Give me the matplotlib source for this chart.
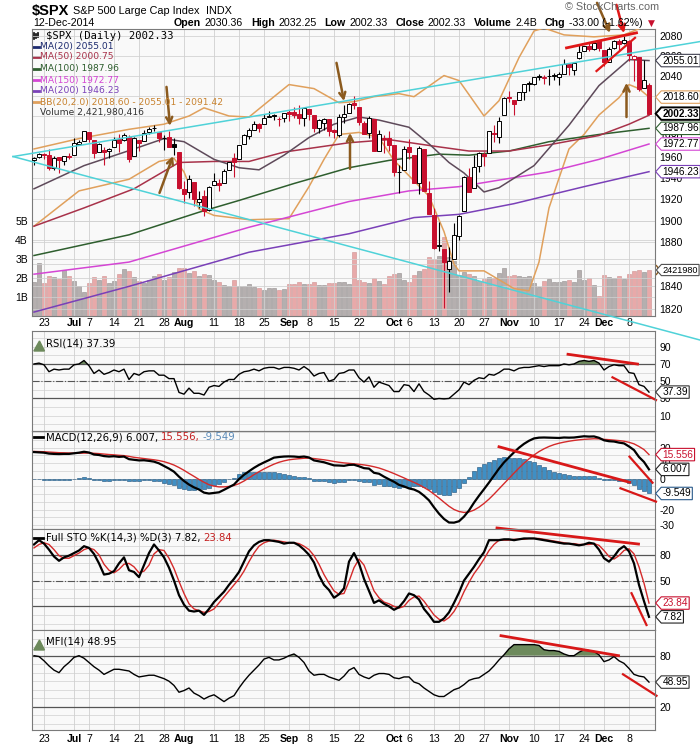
import numpy as np
import pandas as pd
import matplotlib
matplotlib.use("Agg")
import matplotlib.pyplot as plt
from matplotlib.lines import Line2D
from matplotlib.patches import Ellipse, Polygon, Rectangle
from matplotlib.path import Path
from matplotlib.transforms import blended_transform_factory
from matplotlib.ticker import NullLocator

# ---------------- data ----------------
holidays = ["2014-07-04", "2014-09-01", "2014-11-27"]
dates = pd.bdate_range("2014-06-19", "2014-12-12")
dates = dates[~dates.isin(pd.to_datetime(holidays))]
days = np.arange(len(dates))
prev_close = 1956.98  # close of 18-Jun

opens = [1957.5, 1960.5, 1962.9, 1961.9, 1949.3, 1959.9, 1956.6, 1960.8, 1962.3, 1973.1, 1975.9,
         1984.2, 1976.4, 1965.1, 1966.7, 1965.8,
         1969.9, 1977.4, 1976.4, 1979.8, 1961.5,
         1976.9, 1975.7, 1984.6, 1988.1, 1984.6,
         1978.3, 1980.0, 1973.2, 1965.1, 1929.8,
         1926.6, 1936.3, 1917.3, 1923.0, 1910.4,
         1933.4, 1935.7, 1935.6, 1947.4, 1958.9,
         1958.4, 1972.7, 1980.5, 1986.8, 1992.6,
         1991.7, 1998.6, 2000.5, 1997.4, 1998.5,
         2004.1, 2003.6, 2001.7, 1998.0,
         2007.2, 2000.7, 1988.4, 1992.9, 1996.7,
         1986.0, 1981.9, 1999.3, 2003.1, 2012.7,
         2009.1, 1992.8, 1983.3, 1997.3, 1966.2,
         1978.96, 1978.2, 1971.4, 1945.8, 1948.1,
         1970.0, 1962.4, 1935.6, 1967.7, 1925.6,
         1905.7, 1877.1, 1874.2, 1855.9, 1864.9,
         1885.6, 1909.4, 1941.3, 1931.0, 1951.6,
         1962.97, 1964.1, 1983.3, 1979.5, 2001.2,
         2018.2, 2015.8, 2015.3, 2023.3, 2032.4,
         2032.0, 2038.2, 2037.8, 2039.2, 2039.7,
         2038.3, 2041.5, 2051.2, 2045.9, 2057.5,
         2065.1, 2070.2, 2067.0, 2074.8,
         2065.8, 2053.8, 2067.5, 2074.8, 2072.8,
         2074.8, 2056.6, 2058.9, 2027.9, 2030.36]
highs = [1960.0, 1963.9, 1963.7, 1968.2, 1960.8, 1959.9, 1961.5, 1964.2, 1978.6, 1976.7, 1985.6,
         1984.2, 1976.4, 1974.2, 1969.8, 1968.7,
         1979.8, 1982.5, 1983.9, 1981.8, 1979.9,
         1976.9, 1986.2, 1989.2, 1991.4, 1984.6,
         1981.5, 1984.9, 1978.9, 1965.1, 1937.4,
         1942.9, 1936.3, 1927.9, 1928.9, 1932.4,
         1944.9, 1939.7, 1948.4, 1955.2, 1964.0,
         1972.0, 1982.6, 1988.6, 1994.8, 1993.5,
         2002.0, 2005.0, 2002.1, 1998.6, 2003.4,
         2006.1, 2009.3, 2011.2, 2007.8,
         2007.2, 2001.0, 1996.7, 1997.7, 1996.7,
         1987.2, 2002.3, 2010.7, 2012.3, 2019.3,
         2009.1, 1995.4, 1999.8, 1997.3, 1986.4,
         1981.3, 1985.2, 1971.4, 1952.3, 1971.2,
         1977.8, 1962.4, 1970.4, 1967.7, 1937.0,
         1912.1, 1898.7, 1874.2, 1876.0, 1898.2,
         1905.0, 1942.5, 1949.3, 1962.0, 1965.3,
         1964.6, 1985.1, 1991.4, 1999.4, 2018.2,
         2024.5, 2016.0, 2023.8, 2031.6, 2034.3,
         2038.7, 2041.3, 2040.3, 2046.2, 2042.2,
         2043.1, 2056.1, 2052.1, 2053.8, 2071.5,
         2070.2, 2074.2, 2073.4, 2075.8,
         2065.8, 2068.8, 2076.3, 2077.3, 2079.5,
         2075.8, 2060.6, 2058.9, 2055.5, 2032.25]
lows = [1952.3, 1959.2, 1958.2, 1948.3, 1947.5, 1944.7, 1953.0, 1958.2, 1962.3, 1972.6, 1975.9,
        1974.9, 1959.5, 1965.1, 1952.9, 1959.6,
        1969.9, 1965.3, 1975.7, 1955.6, 1960.8,
        1965.8, 1975.7, 1982.4, 1985.8, 1974.4,
        1967.3, 1969.9, 1962.4, 1930.0, 1916.4,
        1921.2, 1913.8, 1911.5, 1904.8, 1909.0,
        1933.4, 1928.3, 1935.6, 1947.4, 1941.5,
        1958.4, 1972.7, 1977.7, 1986.8, 1984.8,
        1991.7, 1998.6, 1996.2, 1990.5, 1994.6,
        1994.9, 1998.2, 1992.5, 1990.1,
        1995.6, 1984.6, 1983.0, 1985.9, 1980.3,
        1978.5, 1979.1, 1993.3, 2003.1, 2006.6,
        1991.0, 1982.3, 1978.6, 1965.9, 1966.2,
        1964.0, 1966.0, 1941.7, 1926.0, 1948.1,
        1958.4, 1935.1, 1925.3, 1927.6, 1906.1,
        1874.1, 1871.8, 1820.66, 1835.0, 1864.9,
        1882.3, 1909.4, 1926.8, 1931.0, 1946.3,
        1951.4, 1964.1, 1974.8, 1974.2, 2001.2,
        2013.7, 2001.0, 2015.3, 2015.9, 2025.1,
        2030.2, 2035.3, 2031.3, 2030.4, 2035.2,
        2030.2, 2041.5, 2040.4, 2040.5, 2056.8,
        2065.1, 2064.8, 2066.0, 2065.1,
        2049.6, 2053.8, 2066.7, 2064.5, 2071.5,
        2054.3, 2034.2, 2024.3, 2027.9, 2002.33]
closes = [1959.48, 1962.87, 1962.61, 1949.98, 1959.53, 1957.22, 1960.96, 1960.23, 1973.32, 1974.62, 1985.44,
          1977.65, 1963.71, 1972.83, 1964.68, 1967.57,
          1977.10, 1973.28, 1981.57, 1958.12, 1978.22,
          1973.63, 1983.53, 1987.01, 1987.98, 1978.34,
          1978.91, 1969.95, 1970.07, 1930.67, 1925.15,
          1938.99, 1920.21, 1920.24, 1909.57, 1931.59,
          1936.92, 1933.75, 1946.72, 1955.18, 1955.06,
          1971.74, 1981.60, 1986.51, 1992.37, 1988.40,
          1997.92, 2000.02, 2000.12, 1996.74, 2003.37,
          2002.28, 2000.72, 1997.65, 2007.71,
          2001.54, 1988.44, 1995.69, 1997.45, 1985.54,
          1984.13, 1998.98, 2001.57, 2011.36, 2010.40,
          1994.29, 1982.77, 1998.30, 1965.99, 1982.85,
          1977.80, 1972.29, 1946.16, 1946.17, 1967.90,
          1964.82, 1935.10, 1968.89, 1928.21, 1906.13,
          1874.74, 1877.70, 1862.49, 1862.76, 1886.76,
          1904.01, 1941.28, 1927.11, 1950.82, 1964.58,
          1961.63, 1985.05, 1982.30, 1994.65, 2018.05,
          2017.81, 2012.10, 2023.57, 2031.21, 2031.92,
          2038.26, 2039.68, 2038.25, 2039.33, 2039.82,
          2041.32, 2051.80, 2048.72, 2052.75, 2063.50,
          2069.41, 2067.03, 2072.83, 2067.56,
          2053.44, 2066.55, 2074.33, 2071.92, 2075.37,
          2060.31, 2059.82, 2026.14, 2035.33, 2002.33]
volume_b = [1.8, 2.8, 1.75, 2.1, 2.05, 1.95, 2.4, 2.1, 1.85, 1.6, 1.25,
            1.75, 2.05, 1.9, 2.1, 1.75,
            1.85, 2.2, 2.45, 2.35, 2.05,
            1.85, 1.75, 1.9, 2.1, 2.2,
            1.9, 2.05, 2.3, 2.55, 2.55,
            2.25, 2.35, 2.1, 2.2, 2.15,
            1.9, 1.8, 1.65, 1.6, 1.9,
            1.6, 1.6, 1.7, 1.55, 1.5,
            1.35, 1.5, 1.5, 1.35, 1.4,
            1.7, 1.7, 1.8, 1.7,
            1.7, 1.8, 1.65, 1.65, 1.75,
            1.75, 1.8, 1.8, 1.7, 3.35,
            1.9, 1.8, 1.75, 2.0, 1.85,
            1.7, 2.1, 2.2, 2.25, 1.9,
            1.8, 2.15, 2.35, 2.45, 3.1,
            3.0, 3.15, 4.15, 3.1, 2.9,
            2.15, 2.3, 2.2, 2.1, 1.85,
            1.95, 2.05, 2.0, 2.25, 2.55,
            2.1, 2.15, 2.1, 2.05, 2.1,
            1.75, 1.55, 1.85, 1.95, 1.8,
            1.8, 1.85, 1.9, 1.8, 2.4,
            1.9, 2.0, 1.65, 1.05,
            2.15, 2.05, 2.0, 2.1, 1.95,
            2.2, 2.35, 2.4, 2.3, 2.42]

# overlays read at sample days (day index, value)
ma20_day = [0, 10, 20, 26, 30, 36, 41, 45, 50, 55, 60, 65, 69, 75, 79, 83, 86, 90, 93, 100, 107, 113, 119, 123]
ma20_val = [1930, 1952, 1968, 1978, 1975, 1958, 1950, 1948, 1962, 1979, 1992, 1999, 1996, 1989, 1973, 1955,
            1945, 1927, 1931, 1952, 1991, 2030, 2056, 2055.01]
ma50_day = [0, 10, 20, 29, 36, 43, 50, 63, 71, 81, 87, 95, 103, 113, 119, 123]
ma50_val = [1895, 1912, 1930, 1955, 1956, 1956, 1965, 1974, 1977, 1970, 1966, 1966, 1972, 1981, 1992, 2000.75]
ma100_day = [0, 19, 33, 41, 52, 63, 71, 81, 87, 95, 103, 113, 123]
ma100_val = [1868, 1887, 1908, 1919, 1935, 1950, 1957, 1963, 1962, 1966, 1975, 1982, 1987.96]
ma150_day = [0, 19, 43, 63, 75, 85, 103, 113, 123]
ma150_val = [1851, 1862, 1894, 1918, 1928, 1932, 1946, 1958, 1972.77]
ma200_day = [0, 19, 43, 63, 76, 85, 96, 110, 123]
ma200_val = [1817, 1840, 1871, 1888, 1903, 1906, 1916, 1932, 1946.23]
bbup_day = [0, 9, 19, 26, 31, 34, 39, 43, 47, 51, 56, 61, 64, 68, 73, 76, 80, 82, 85, 87, 90, 93, 97,
            100, 102, 106, 112, 118, 123]
bbup_val = [1968, 1978, 1987, 1992, 2000, 2008, 2000, 1999, 2015, 2031, 2027, 2013, 2014, 2019, 2022, 2019,
            2033, 2040, 2035, 2021, 2000, 2015, 2058, 2085, 2088, 2081, 2079, 2081, 2091.42]
bblo_day = [0, 9, 19, 25, 28, 30, 33, 36, 43, 51, 55, 58, 61, 65, 69, 72, 79, 82, 84, 85, 90, 96, 99,
            101, 103, 105, 107, 110, 113, 117, 119, 121, 123]
bblo_val = [1895, 1928, 1939, 1956, 1959, 1946, 1911, 1905, 1901, 1902, 1932, 1958, 1982, 1984, 1979, 1957,
            1923, 1890, 1860, 1854, 1854, 1838, 1836, 1862, 1912, 1940, 1968, 1982, 2001, 2018, 2031, 2027,
            2018.60]

rsi = [70, 71, 69, 61, 64, 63, 64, 64, 69, 70, 74,
       68, 59, 63, 58, 60,
       63, 61, 64, 52, 59,
       57, 61, 62, 62, 57,
       57, 53, 53, 37, 35,
       42, 36, 36, 34, 43,
       45, 44, 49, 52, 52,
       58, 61, 62, 64, 62,
       65, 66, 66, 64, 66,
       66, 65, 63, 67,
       63, 56, 59, 60, 50,
       52, 59, 60, 63, 63,
       54, 49, 55, 43, 49,
       47, 45, 38, 38, 46,
       45, 38, 47, 38, 34,
       29, 30, 29.5, 30, 35,
       40, 49, 46, 51, 54,
       53, 58, 57, 60, 64,
       64, 62, 65, 66, 66,
       67, 68, 67, 68, 68,
       68, 70, 69, 70, 73,
       74, 73, 74, 71,
       63, 67, 69, 68, 68,
       60, 59, 46, 44, 37.39]
macd = [17.2, 17.0, 16.8, 16.2, 16.0, 15.9, 16.0, 16.0, 16.4, 16.8, 17.4,
        16.9, 15.6, 15.3, 14.6, 14.3, 14.5, 14.1, 14.3, 12.6, 12.2,
        11.8, 11.9, 11.5, 11.0, 9.9, 8.2, 6.5, 4.5, 1.3, -1.5,
        -3.8, -5.6, -7.0, -9.0, -9.6, -9.2, -8.8, -7.2, -5.5, -3.8,
        -0.3, 2.5, 4.8, 7.0, 8.9, 10.5, 12.0, 13.6, 14.0, 14.3,
        14.4, 14.3, 14.0, 14.3, 13.7, 11.8, 11.2, 10.6, 9.6, 8.6,
        8.5, 8.3, 8.9, 9.0, 8.0, 6.8, 6.5, 3.8, 3.2, 1.3,
        -0.4, -2.0, -4.0, -5.0, -6.3, -7.0, -8.5, -11.0, -14.0, -18.5,
        -22.6, -26.0, -28.3, -28.4, -27.5, -24.5, -20.5, -15.5, -11.0, -6.8,
        -2.5, 2.0, 6.5, 10.5, 13.8, 17.0, 20.0, 22.5, 24.5, 26.0,
        26.5, 26.6, 26.5, 26.4, 26.3, 26.6, 26.5, 26.6, 27.0, 27.4,
        27.2, 27.3, 26.4, 24.8, 24.2, 24.0, 23.3, 22.8, 20.8, 18.5,
        14.0, 10.8, 6.007]
signal = [17.6, 17.5, 17.4, 17.2, 17.0, 16.8, 16.7, 16.6, 16.5, 16.5, 16.5,
          16.6, 16.4, 16.2, 15.9, 15.6, 15.4, 15.1, 14.9, 14.4, 13.8,
          13.4, 13.0, 12.6, 12.2, 11.7, 11.0, 10.0, 8.8, 7.2, 5.4,
          3.4, 1.5, -0.5, -2.3, -3.9, -4.8, -5.3, -5.3, -5.0, -4.4,
          -3.2, -1.5, 0.5, 2.6, 4.5, 6.3, 7.9, 9.4, 10.6, 11.5,
          12.2, 12.6, 12.9, 13.2, 13.3, 13.0, 12.6, 12.2, 11.7, 11.1,
          10.6, 10.2, 9.9, 9.6, 9.3, 8.9, 8.4, 7.7, 6.9, 5.8,
          4.6, 3.3, 1.9, 0.5, -1.0, -2.4, -3.9, -5.7, -7.6, -10.0,
          -12.5, -15.2, -17.8, -19.9, -21.2, -21.8, -21.5, -20.3, -18.4, -16.0,
          -13.2, -10.0, -6.6, -3.2, 0.2, 3.6, 6.9, 10.0, 12.8, 15.3,
          17.5, 19.3, 20.8, 22.0, 22.9, 23.6, 24.2, 24.7, 25.1, 25.4,
          25.6, 25.8, 25.7, 25.4, 25.2, 24.9, 24.6, 24.2, 23.5, 22.5,
          20.8, 18.8, 15.556]
sto_k = [92, 97, 93, 86, 78, 73, 77, 79, 82, 85, 90,
         88, 81, 70, 57, 58, 61, 70, 77, 62, 60,
         54, 68, 82, 92, 85, 77, 65, 50, 33, 22,
         15, 14, 15, 10, 17, 25, 31, 37, 45, 52,
         60, 72, 84, 91, 95, 97, 97, 96, 95, 93,
         94, 94, 91, 86, 80, 71, 56, 45, 39, 30,
         34, 41, 72, 82, 70, 52, 38, 24, 27, 23,
         20, 16, 19, 26, 35, 33, 28, 17, 10, 2,
         2, 6, 13, 24, 36, 50, 58, 66, 75, 83,
         97, 97, 97, 98, 98, 97, 98, 99, 99, 99,
         98, 97, 96, 95, 94, 93, 93, 92, 91, 92,
         94, 93, 86, 76, 72, 78, 86, 90, 84, 70,
         45, 26, 7.82]
sto_d = [88, 92, 94, 92, 86, 79, 76, 76, 79, 82, 86,
         88, 86, 80, 69, 62, 59, 63, 69, 70, 66,
         59, 61, 68, 81, 86, 85, 76, 64, 49, 35,
         23, 17, 15, 13, 14, 17, 24, 31, 38, 45,
         52, 61, 72, 82, 90, 94, 96, 97, 96, 95,
         94, 94, 93, 90, 86, 79, 69, 57, 47, 38,
         34, 35, 49, 65, 75, 68, 53, 38, 30, 25,
         23, 20, 18, 20, 27, 31, 32, 26, 18, 10,
         5, 3, 7, 14, 24, 37, 48, 58, 66, 75,
         85, 92, 97, 97, 97, 98, 98, 98, 99, 99,
         99, 98, 97, 96, 95, 94, 93, 93, 92, 92,
         92, 93, 91, 85, 78, 75, 79, 85, 87, 81,
         66, 47, 23.84]
mfi = [80, 79, 74, 68, 63, 60, 67, 72, 78, 80, 77,
       72, 67, 63, 58, 61, 64, 64, 63, 62, 58,
       55, 56, 57, 57, 55, 53, 50, 45, 37, 39,
       42, 36, 33, 29, 32, 34, 30, 26, 30, 33,
       42, 50, 57, 63, 69, 76, 78, 75, 75, 77,
       80, 82, 78, 72, 62, 57, 58, 58, 55, 53,
       51, 56, 63, 66, 58, 55, 53, 57, 59, 59,
       58, 54, 53, 55, 55, 49, 47, 42, 38, 34,
       32, 32, 36, 40, 42, 46, 51, 53, 54, 58,
       62, 68, 75, 81, 88, 93, 93, 93, 93, 93,
       92, 87, 86, 86, 85, 82, 80, 80, 84, 87,
       86, 85, 81, 73, 75, 79, 74, 71, 65, 58,
       56, 55, 48.95]

tick_dates = ["2014-06-23", "2014-07-01", "2014-07-07", "2014-07-14", "2014-07-21", "2014-07-28",
              "2014-08-01", "2014-08-11", "2014-08-18", "2014-08-25", "2014-09-02", "2014-09-08",
              "2014-09-15", "2014-09-22", "2014-10-01", "2014-10-06", "2014-10-13", "2014-10-20",
              "2014-10-27", "2014-11-03", "2014-11-10", "2014-11-17", "2014-11-24", "2014-12-01",
              "2014-12-08"]
tick_labels = ["23", "Jul", "7", "14", "21", "28", "Aug", "11", "18", "25", "Sep", "8", "15", "22",
               "Oct", "6", "13", "20", "27", "Nov", "10", "17", "24", "Dec", "8"]
months = {"Jul", "Aug", "Sep", "Oct", "Nov", "Dec"}

# ---------------- styling ----------------
W, H = 700, 748
RED = "#c8102e"
BROWN = "#8b5a1e"
CYAN = "#4fd2d8"
GRIDC = "#d0d0d0"
BG = "#f9f9f9"
LBL = "Liberation Sans"
c_ma20, c_ma50, c_ma100 = "#5e4a5a", "#a8324a", "#2e5e2e"
c_ma150, c_ma200, c_bb = "#d446d4", "#7a40b8", "#e0a05c"

tick_pos = dates.get_indexer(pd.to_datetime(tick_dates))
xlo, xhi = -0.4, 124.2

fig = plt.figure(figsize=(W / 100, H / 100), dpi=100)
fig.patch.set_facecolor("white")
renderer = fig.canvas.get_renderer()


def panel(top, bottom):
    return fig.add_axes([32 / W, 1 - bottom / H, 623 / W, (bottom - top) / H])


def fx(x):
    return x / W


def fy(y):
    return 1 - y / H


def rainbow(x, y, parts, **kw):
    for s, extra, gap in parts:
        props = dict(kw)
        props.update(extra)
        t = fig.text(fx(x), fy(y), s, va="center", ha="left", **props)
        x = t.get_window_extent(renderer).x1 + gap


def tag_shape(x0, y0, width, height, mutation_size):
    pad = mutation_size * 0.12
    x0, y0 = x0 - pad, y0 - pad
    x1, y1 = x0 + width + 2 * pad, y0 + height + 2 * pad
    tip = (y1 - y0) * 0.45
    return Path([(x0, y0), (x1, y0), (x1, y1), (x0, y1), (x0 - tip, (y0 + y1) / 2), (x0, y0)], closed=True)


def tag(axp, value, text, edge, color="black", bold=False, lw=0.8, size=7.3):
    axp.text(1.012, value, text, transform=blended_transform_factory(axp.transAxes, axp.transData),
             ha="left", va="center", fontsize=size, family=LBL, color=color,
             fontweight="bold" if bold else "normal", clip_on=False, zorder=20,
             bbox=dict(boxstyle=tag_shape, fc="white", ec=edge, lw=lw))


def style_panel(axp):
    axp.set_xlim(xlo, xhi)
    axp.set_facecolor(BG)
    axp.set_xticks(tick_pos)
    axp.tick_params(length=0, labelsize=7.5, pad=3)
    axp.grid(axis="x", color=GRIDC, lw=0.6)
    axp.set_axisbelow(True)
    for s in axp.spines.values():
        s.set_color("#7a7a7a")
        s.set_linewidth(0.8)


def right_ticks(axp, ticks, shown):
    axp.yaxis.tick_right()
    axp.set_yticks(ticks)
    axp.set_yticklabels([str(t) if t in shown else "" for t in ticks], family=LBL)


def date_labels(axp):
    axp.set_xticklabels(tick_labels)
    for t in axp.get_xticklabels():
        t.set_family(LBL)
        t.set_fontsize(7.6)
        if t.get_text() in months:
            t.set_fontweight("bold")


# ---------------- main price panel ----------------
ax = panel(29, 316)
vax = ax.twinx()
ax.set_zorder(2)
vax.set_zorder(1)
ax.patch.set_visible(False)
vax.patch.set_visible(True)
vax.patch.set_facecolor(BG)

o, h, l, c = map(np.array, (opens, highs, lows, closes))
prev = np.r_[prev_close, c[:-1]]
down = c < prev
edge = np.where(down, RED, "black")
face = np.where(c > o, "white", edge)

vol = np.array(volume_b)
vax.bar(days, vol, width=0.86, color=np.where(down, "#e8a9a9", "#b5afaf"),
        edgecolor=np.where(down, "#cf9090", "#938d8d"), linewidth=0.4)
vax.set_ylim(0, 287 / 19)
vax.yaxis.tick_left()
vax.set_yticks([1, 2, 3, 4, 5])
vax.set_yticklabels(["1B", "2B", "3B", "4B", "5B"], family=LBL)
vax.tick_params(length=0, labelsize=7.5, pad=3)
vax.grid(axis="y", color=GRIDC, lw=0.55)
for s in vax.spines.values():
    s.set_visible(False)

ax.set_yscale("log")
ax.set_ylim(1813.5, 2087)
price_ticks = list(range(1820, 2081, 20))
# 1860, 2000 and 2020 sit under the value tags on the right
right_ticks(ax, price_ticks, [p for p in price_ticks if p not in (1860, 2000, 2020)])
ax.yaxis.set_minor_locator(NullLocator())
style_panel(ax)
ax.grid(axis="y", color=GRIDC, lw=0.55)
date_labels(ax)
ax.tick_params(axis="x", pad=1.5)

ax.plot(bblo_day, bblo_val, color=c_bb, lw=1.1, zorder=3)
ax.plot(bbup_day, bbup_val, color=c_bb, lw=1.1, zorder=3)
ax.plot(ma200_day, ma200_val, color=c_ma200, lw=1.1, zorder=3)
ax.plot(ma150_day, ma150_val, color=c_ma150, lw=1.1, zorder=3)
ax.plot(ma100_day, ma100_val, color=c_ma100, lw=1.1, zorder=3)
ax.plot(ma50_day, ma50_val, color=c_ma50, lw=1.1, zorder=3)
ax.plot(ma20_day, ma20_val, color=c_ma20, lw=1.1, zorder=3)

ax.vlines(days, l, h, colors=edge, lw=0.8, zorder=4)
ax.bar(days, np.maximum(np.abs(c - o), 0.35), bottom=np.minimum(o, c), width=0.62,
       color=face, edgecolor=edge, linewidth=0.7, zorder=5)

# hand-drawn annotations
ax.plot([-4.2, 133.2], [1960.7, 2074.2], color=CYAN, lw=1.1, clip_on=False, zorder=6)
ax.plot([-4.2, 133.2], [1960.7, 1792.3], color=CYAN, lw=1.1, clip_on=False, zorder=6)
ax.plot([106.5, 120.5], [2067.8, 2083.1], color="#e01818", lw=2, clip_on=False, zorder=7)
ax.plot([112.5, 120.2], [2044.5, 2078.0], color="#e01818", lw=1.6, clip_on=False, zorder=7)
arrows = [((26.5, 2028.7), (27.2, 1990.3), BROWN), ((25.1, 1926.1), (27.8, 1961.2), BROWN),
          ((60.5, 2052.7), (62.0, 2014.6), BROWN), ((63.2, 1949.0), (63.2, 1983.6), BROWN),
          ((112.6, 2113.9), (115.2, 2083.1), BROWN), ((116.5, 2111.8), (118.0, 2082.8), "#e01818"),
          ((118.5, 1999.0), (118.5, 2032.8), BROWN)]
for tail, tip, col in arrows:
    ax.annotate("", xy=tip, xytext=tail, annotation_clip=False, zorder=8,
                arrowprops=dict(arrowstyle="->", color=col, lw=1.8, mutation_scale=11,
                                shrinkA=0, shrinkB=0))

tag(ax, 2055.01, "2055.01", "#404050")
tag(ax, 2018.60, "2018.60", c_bb)
tag(ax, 1987.96, "1987.96", c_ma100)
tag(ax, 1972.77, "1972.77", c_ma150)
tag(ax, 1946.23, "1946.23", c_ma200)
tag(ax, 2002.33, "2002.33", "black", bold=True, lw=1.4)
tag(vax, 2.42, "2421980", "#505050", size=6.6)

# legend of main panel
fig.text(fx(46), fy(36), "$SPX (Daily) 2002.33", family="DejaVu Sans Mono", fontsize=7.6, va="center")
for k, xx in enumerate([33.5, 35.5, 37.5]):
    fig.add_artist(Line2D([fx(xx)] * 2, [fy(39 - k), fy(33 + k % 2)], color="black", lw=1.2))
legend_rows = [("MA(20) 2055.01", "#1c2a6e", "#1c2a6e", 46.5), ("MA(50) 2000.75", c_ma50, c_ma50, 57),
               ("MA(100) 1987.96", c_ma100, c_ma100, 69), ("MA(150) 1972.77", c_ma150, c_ma150, 80),
               ("MA(200) 1946.23", c_ma200, c_ma200, 91),
               ("BB(20,2.0) 2018.60 - 2055.01 - 2091.42", "#c8822e", c_bb, 102)]
for txt, tc, lc, yy in legend_rows:
    fig.add_artist(Line2D([fx(32.5), fx(38.5)], [fy(yy)] * 2, color=lc, lw=2))
    fig.text(fx(39.5), fy(yy), txt, fontsize=6.6, color=tc, va="center")
for k, hh in enumerate([4, 7, 5]):
    fig.add_artist(Rectangle((fx(32.5 + 2 * k), fy(116)), 1.4 / W, hh / H, color="#555555"))
fig.text(fx(39.5), fy(112.3), "Volume 2,421,980,416", fontsize=6.6, color="#333333", va="center")
fig.add_artist(Ellipse((fx(153.5), fy(102.5)), 41 / W, 15 / H, fill=False, ec=BROWN, lw=1))
fig.add_artist(Ellipse((fx(641.5), fy(270)), 34 / W, 18 / H, fill=False, ec=BROWN, lw=1))

# ---------------- header ----------------
B = {"fontweight": "bold"}
N = {}
rainbow(32, 11, [("$SPX", {"fontweight": "bold", "fontsize": 10.5}, 4),
                 ("S&P 500 Large Cap Index", N, 6), ("INDX", N, 0)], family=LBL, fontsize=7.8)
fig.text(fx(565), fy(7), "\u00a9 StockCharts.com", family=LBL, fontsize=7.8, color="#666666", va="center")
fig.text(fx(33), fy(23), "12-Dec-2014", family=LBL, fontsize=7.7, va="center")
rainbow(174, 23, [("Open", B, 3.5), ("2030.36", N, 8), ("High", B, 3.5), ("2032.25", N, 8),
                  ("Low", B, 3.5), ("2002.33", N, 8), ("Close", B, 3.5), ("2002.33", N, 8),
                  ("Volume", B, 3.5), ("2.4B", N, 8), ("Chg", B, 3.5), ("-33.00 (-1.62%)", N, 5),
                  ("\u25bc", {"color": RED, "fontsize": 6.5, "family": "DejaVu Sans"}, 0)],
        family=LBL, fontsize=7.7)

# ---------------- RSI ----------------
rax = panel(331, 431)
style_panel(rax)
rax.set_ylim(-7.7, 108.2)
right_ticks(rax, [10, 30, 50, 70, 90], [10, 30, 50, 70, 90])
rax.set_xticklabels([])
for v in range(0, 101, 10):
    rax.axhline(v, color=GRIDC, lw=0.5, zorder=0)
rax.axhline(70, color="#555555", lw=0.9)
rax.axhline(30, color="#555555", lw=0.9)
rax.axhline(50, color="#555555", lw=0.8, ls="-.")
rsi_a = np.array(rsi)
rax.fill_between(days, rsi_a, 70, where=rsi_a > 70, interpolate=True, color="#6d8a5c", lw=0)
rax.plot(days, rsi_a, color="black", lw=1)
rax.plot([106.8, 120.7], [81.2, 69.9], color="#d81818", lw=2, clip_on=False)
rax.plot([115.7, 124.4], [54.5, 28.2], color="#d81818", lw=1.6, clip_on=False)
tag(rax, 37.39, "37.39", "#333333")
rax.add_patch(Polygon([[0.003, 0.8], [0.012, 0.9], [0.02, 0.8]], closed=True,
                      transform=rax.transAxes, color="#6d8a5c", clip_on=False))
rax.text(0.023, 0.88, "RSI(14) 37.39", transform=rax.transAxes, fontsize=7.3, va="center")

# ---------------- MACD ----------------
mac = panel(431, 529)
style_panel(mac)
mac.set_ylim(-32.5, 30.8)
right_ticks(mac, [-30, -20, -10, 0, 10, 20], [-30, -20, 0, 10, 20])
mac.set_xticklabels([])
for v in range(-30, 31, 5):
    mac.axhline(v, color=GRIDC, lw=0.5, zorder=0)
hist = np.array(macd) - np.array(signal)
mac.bar(days, hist, width=0.9, color="#3f8fc4", edgecolor="#1d4f78", linewidth=0.4, zorder=2)
mac.plot(days, signal, color="#d42a2a", lw=1, zorder=3)
mac.plot(days, macd, color="black", lw=1.6, zorder=4)
mac.plot([93.0, 119.1], [20.6, -2.3], color="#d81818", lw=2, clip_on=False, zorder=5)
mac.plot([119.1, 123.7], [14.2, -2.6], color="#d81818", lw=1.6, clip_on=False, zorder=5)
mac.plot([117.3, 124.4], [-6.2, -14.8], color="#d81818", lw=1.6, clip_on=False, zorder=5)
tag(mac, 15.556, "15.556", RED, color=RED)
tag(mac, 6.007, "6.007", "#222222")
tag(mac, -9.549, "-9.549", "#2a5a8a")
y_m = 437
fig.add_artist(Line2D([fx(34), fx(43)], [fy(y_m)] * 2, color="black", lw=2))
rainbow(46, y_m, [("MACD(12,26,9) 6.007,", {"color": "black"}, 3),
                  ("15.556,", {"color": "#c42020"}, 3), ("-9.549", {"color": "#5a8ab8"}, 0)],
        fontsize=7.3)

# ---------------- Full STO ----------------
sax = panel(529, 630)
style_panel(sax)
sax.set_ylim(-7.5, 110)
right_ticks(sax, [20, 50, 80], [50, 80])
sax.set_xticklabels([])
for v in range(0, 101, 10):
    sax.axhline(v, color=GRIDC, lw=0.5, zorder=0)
sax.axhline(80, color="#555555", lw=0.9)
sax.axhline(20, color="#555555", lw=0.9)
sax.axhline(50, color="#555555", lw=0.8, ls="-.")
sax.plot(days, sto_d, color="#d42a2a", lw=1)
sax.plot(days, sto_k, color="black", lw=1.6)
sax.plot([92.6, 120.9], [111.2, 92.5], color="#d81818", lw=2, clip_on=False)
sax.plot([119.5, 122.5], [35.3, -1.7], color="#d81818", lw=1.6, clip_on=False)
tag(sax, 23.84, "23.84", RED, color=RED)
tag(sax, 7.82, "7.82", "#222222")
y_s = 537.7
fig.add_artist(Line2D([fx(34), fx(43)], [fy(y_s)] * 2, color="black", lw=2))
rainbow(46, y_s, [("Full STO %K(14,3) %D(3) 7.82,", {"color": "black"}, 3),
                  ("23.84", {"color": "#c42020"}, 0)], fontsize=7.3)

# ---------------- MFI ----------------
max_ = panel(630, 730)
style_panel(max_)
max_.set_ylim(-7.4, 110.2)
right_ticks(max_, [20, 80], [20, 80])
date_labels(max_)
for v in range(0, 101, 10):
    max_.axhline(v, color=GRIDC, lw=0.5, zorder=0)
max_.axhline(80, color="#555555", lw=0.9)
max_.axhline(20, color="#555555", lw=0.9)
mfi_a = np.array(mfi)
max_.fill_between(days, mfi_a, 80, where=mfi_a > 80, interpolate=True, color="#6d8a5c", lw=0)
max_.plot(days, mfi_a, color="black", lw=1)
max_.plot([93.4, 116.9], [103.5, 80.0], color="#d81818", lw=2, clip_on=False)
max_.plot([117.8, 124.5], [58.1, 32.9], color="#d81818", lw=1.6, clip_on=False)
tag(max_, 48.95, "48.95", "#333333")
max_.add_patch(Polygon([[0.003, 0.8], [0.012, 0.9], [0.02, 0.8]], closed=True,
                       transform=max_.transAxes, color="#6d8a5c", clip_on=False))
max_.text(0.023, 0.88, "MFI(14) 48.95", transform=max_.transAxes, fontsize=7.3, va="center")

fig.savefig("out.png", dpi=100, facecolor="white")
